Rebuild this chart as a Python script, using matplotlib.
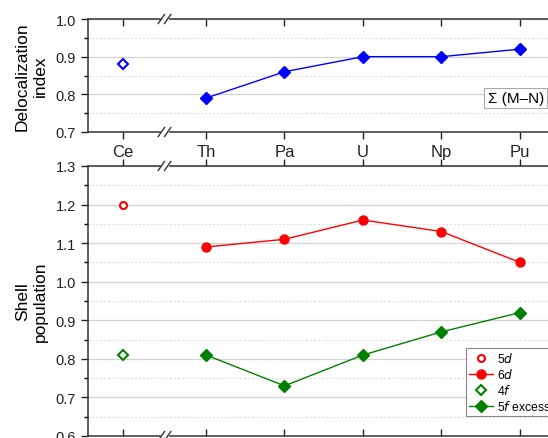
import numpy as np
import matplotlib
matplotlib.use('Agg')
import matplotlib.pyplot as plt
from matplotlib.ticker import MultipleLocator, FormatStrFormatter
from matplotlib.lines import Line2D

plt.rcParams['font.family'] = ['Liberation Sans', 'DejaVu Sans']

# element labels, Ce sits left of the axis break
elements = ['Ce', 'Th', 'Pa', 'U', 'Np', 'Pu']
gap = 0.057
xpos = np.arange(len(elements)) + np.r_[0, np.full(len(elements) - 1, gap)]

# delocalization index  Sum(M-N)
deloc_ce = 0.88
deloc_an = [0.79, 0.86, 0.90, 0.90, 0.92]

# shell populations
pop_5d = 1.20
pop_6d = [1.09, 1.11, 1.16, 1.13, 1.05]
pop_4f = 0.81
pop_5f = [0.81, 0.73, 0.81, 0.87, 0.92]

fnt = 10.5
blue = '#0000ff'
red = '#ff0000'
green = '#008000'

fig = plt.figure(figsize=(5.48, 4.39), dpi=100)
W, H = 548., 439.
left_px, unit = 88., 78.5
xl = (-0.446, 5.5)
width = (xl[1] - xl[0]) * unit / W

ax1 = fig.add_axes([left_px / W, 1 - 133 / H, width, 113 / H])
ax2 = fig.add_axes([left_px / W, 1 - 437 / H, width, 270 / H])


def style(ax, ylo, yhi):
    ax.set_xlim(*xl)
    ax.set_ylim(ylo, yhi)
    ax.yaxis.set_major_locator(MultipleLocator(0.1))
    ax.yaxis.set_minor_locator(MultipleLocator(0.05))
    ax.yaxis.set_major_formatter(FormatStrFormatter('%.1f'))
    ax.grid(axis='y', which='major', color='#d4d4d4', lw=0.9)
    ax.grid(axis='y', which='minor', color='#dcdcdc', lw=0.7, ls=(0, (2, 2)))
    ax.set_axisbelow(True)
    ax.tick_params(axis='y', which='major', direction='out', length=5, width=1,
                   labelsize=fnt, colors='#222222')
    ax.tick_params(axis='y', which='minor', direction='out', length=3, width=1)
    for s in ax.spines.values():
        s.set_linewidth(1.1)
        s.set_color('#333333')
    ax.set_xticks(xpos)
    ax.tick_params(axis='x', length=5, width=1, colors='#222222', labelsize=fnt + 1.5)
    # break marks on the top and bottom spines
    xb = (xpos[0] + xpos[1]) / 2
    dy = 4.5 / ax.bbox.height
    for yy in (0, 1):
        ax.add_patch(plt.Rectangle((xb - 0.04, yy - 0.02), 0.08, 0.04,
                                   transform=ax.get_xaxis_transform(),
                                   color='white', clip_on=False, zorder=5))
        for dx in (-0.05, 0.03):
            ax.add_line(Line2D([xb + dx - 0.03, xb + dx + 0.05], [yy - dy, yy + dy],
                               transform=ax.get_xaxis_transform(), color='#333333',
                               lw=1, clip_on=False, zorder=6))


style(ax1, 0.7, 1.0)
ax1.tick_params(axis='x', top=True, bottom=True, direction='out')
for t in ax1.xaxis.get_major_ticks():
    t.tick2line.set_marker(3)  # top ticks pointing into the axes
ax1.set_xticklabels(elements)

style(ax2, 0.6, 1.3)
ax2.tick_params(axis='x', top=True, bottom=True, labelbottom=False, direction='in')
for t in ax2.xaxis.get_major_ticks():
    t.tick2line.set_marker(2)  # top ticks pointing outward
ax2.set_xticklabels([])

# top panel
ax1.plot(xpos[0], deloc_ce, 'D', mfc='white', mec=blue, mew=1.5, ms=5, zorder=4)
ax1.plot(xpos[1:], deloc_an, '-D', color=blue, lw=1, ms=6, zorder=4)
ax1.set_ylabel('Delocalization\nindex', fontsize=fnt + 2, labelpad=6)
ax1.text(0.856, 0.30, '\u03a3 (M\u2013N)', transform=ax1.transAxes, fontsize=fnt + 0.5,
         va='center', ha='left',
         bbox=dict(boxstyle='square,pad=0.2', fc='white', ec='#aaaaaa', lw=0.8))

# bottom panel
ax2.plot(xpos[0], pop_5d, 'o', mfc='white', mec=red, mew=1.5, ms=5, label='5$d$', zorder=4)
ax2.plot(xpos[1:], pop_6d, '-o', color=red, lw=1, ms=6.5, label='6$d$', zorder=4)
ax2.plot(xpos[0], pop_4f, 'D', mfc='white', mec=green, mew=1.5, ms=5, label='4$f$', zorder=4)
ax2.plot(xpos[1:], pop_5f, '-D', color=green, lw=1, ms=6, label='5$f$ excess', zorder=4)
ax2.set_ylabel('Shell\npopulation', fontsize=fnt + 2, labelpad=6)
leg = ax2.legend(loc='lower left', bbox_to_anchor=(0.809, 0.074), fontsize=8.8,
                 frameon=True, fancybox=False, edgecolor='#888888', framealpha=1,
                 handlelength=2.0, handletextpad=0.3, borderpad=0.25, labelspacing=0.15,
                 borderaxespad=0)
leg.get_frame().set_linewidth(0.8)

fig.savefig('out.png', dpi=100)
